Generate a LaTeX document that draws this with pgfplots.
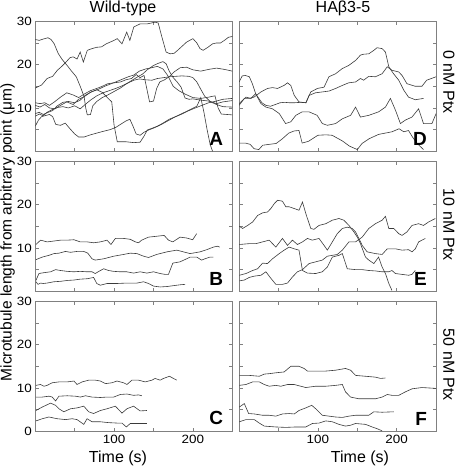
\documentclass[border=0pt]{standalone}
\usepackage{fontspec}
\setmainfont{Liberation Sans}
\usepackage{graphicx}
\usepackage{pgfplots}
\pgfplotsset{compat=1.18}
\definecolor{ln}{HTML}{3A3A3A}
\definecolor{fr}{HTML}{808080}
\newcommand{\tl}[1]{\scalebox{1.12}[1]{#1}}
\pgfplotsset{
  panel/.style={scale only axis, width=197pt, height=130pt,
    xmin=0, xmax=250, ymin=0, ymax=30, anchor=south west,
    axis line style={fr, line width=0.7pt},
    tick style={fr, line width=0.6pt}, major tick length=3.5pt, tick align=inside,
    xtick={50,100,150,200}, ytick={0,5,10,15,20,25,30},
    xticklabels={}, yticklabels={},
    tick label style={font=\fontsize{12}{12}\selectfont},
    /pgf/number format/assume math mode=true,
    no markers},
  leftp/.style={yticklabels={,,\tl{10},,\tl{20},,\tl{30}}},
  leftb/.style={yticklabels={\tl{0},,\tl{10},,\tl{20},,\tl{30}}},
  bott/.style={xticklabels={,\tl{100},,\tl{200}}},
  tr/.style={ln, line width=0.6pt},
}
\newcommand{\letter}[1]{\node[anchor=south east, inner sep=0pt, font=\fontsize{19}{19}\selectfont\bfseries] at (rel axis cs:1,0) [xshift=-9pt, yshift=6pt] {#1};}
\begin{document}
\begin{tikzpicture}
\path[use as bounding box] (0,0) rectangle (457pt,468pt);
% ---------- A ----------
\begin{axis}[panel, leftp, at={(35.3pt,316.7pt)}]
\addplot[tr] coordinates {(0,14.6)(8,15.3)(15,16.8)(22,17.3)(28,18.7)(33,19.5)(38,20.4)(44,21.6)(48,21.8)(53,21.3)(57,22.9)(61,20.6)(66,23.3)(72,23.7)(78,24)(84,24.1)(90,24.8)(95,25.2)(100,25.6)(104,26)(110,24.8)(116,27.5)(120,25.6)(125,28.7)(133,29.4)(142,29.4)(152,29.8)(156,29.6)(160,26.8)(166,22.9)(171,22.5)(176,22.6)(180,23.2)(186,24.2)(192,25.2)(200,26)(205,25)(209,23.7)(213,23.3)(219,24)(225,24.8)(230,25)(235,25)(240,25.6)(245,26.3)(250,26.5)};
\addplot[tr] coordinates {(0,25.8)(5,25.6)(10,25.9)(16,26.2)(20,25.8)(24,24.8)(29,22.6)(34,21.2)(40,19.9)(46,18.5)(52,17.2)(57,15)(62,12.6)(64,10)(66,8.4)(70,8.5)(73,10.5)(78,11.5)(85,12.4)(92,13)(100,13.8)(108,14.6)(115,15.5)(122,16.3)(130,17.2)(136,17.8)(142,18.8)(150,19.8)(156,20.3)(162,20.7)(166,20.2)(170,18.5)(175,17)(180,16)(185,14.8)(190,12.3)(195,12)(200,12.1)(210,11.8)(220,11.6)(230,10.8)(238,10.3)(250,10.2)};
\addplot[tr] coordinates {(0,11.2)(6,11)(12,11.2)(18,10.6)(25,11.5)(32,12.5)(40,13.5)(48,13)(55,12.4)(62,13.2)(70,14)(78,14.5)(85,15)(92,15.6)(100,15.8)(108,16)(115,16.5)(122,16.8)(128,17.7)(133,17)(138,17.5)(142,14)(145,11.4)(150,11.6)(154,14.5)(158,16)(164,16.5)(170,17.2)(176,18.3)(184,19.3)(192,19.4)(200,18.8)(210,18.5)(220,18.9)(230,19.2)(240,18.9)(250,18.5)};
\addplot[tr] coordinates {(0,10.6)(6,10.2)(12,10.8)(18,10)(25,9.8)(32,10.6)(40,11.4)(48,10.8)(55,12)(62,12.6)(70,13.6)(78,14.2)(85,13.6)(92,12.3)(97,11.4)(100,6)(104,2.2)(115,2.2)(125,2)(133,2.1)(138,3.5)(142,4.9)(148,5.3)(155,5.8)(162,6.5)(170,7.4)(178,8)(186,8.6)(195,9.4)(203,10)(210,10.5)(220,11.2)(230,11.6)(238,12)(250,12.2)};
\addplot[tr] coordinates {(0,8.7)(5,9)(10,8.5)(15,8.9)(22,9.4)(28,10.5)(35,11.3)(42,11.5)(50,11.2)(57,11.8)(64,13)(72,13.8)(80,14.3)(88,15)(95,15.5)(102,16)(110,16.6)(118,17.2)(125,17.6)(132,18.5)(140,19)(148,19.3)(155,19.6)(162,19)(168,17.5)(175,15)(182,14)(190,13.2)(200,12.4)(210,12.2)(220,12.5)(228,12.8)(232,10)(236,8.6)(250,8.4)};
\addplot[tr] coordinates {(0,5.8)(4,7.2)(8,8)(14,8.3)(18,8.5)(22,8)(26,6.2)(32,6)(38,6.5)(44,5.2)(50,4)(55,3.3)(62,3.3)(70,3.8)(78,4.2)(86,4.6)(95,5)(102,5.5)(108,6.2)(115,7)(120,7.4)(124,5.8)(128,4)(133,3.7)(138,4.4)(145,5)(152,5.5)(160,6.2)(168,7)(176,7.8)(185,8.6)(195,9.5)(205,10.4)(210,12.4)(214,9)(218,5)(222,1.5)(225,0)};
\addplot[tr] coordinates {(0,8.1)(5,8.6)(10,8.2)(15,9)(20,9.5)(28,10.1)(35,10.3)(42,10)(50,10.5)(57,9.8)(62,10.6)(70,11.8)(78,12.8)(86,13.5)(94,14)(102,14.5)(110,15.1)(118,15.8)(125,16.4)(132,16.7)(140,16.5)(148,16.4)(155,16.8)(163,17)(170,17.2)(178,17.3)(186,17.4)(195,17.3)(200,17)(205,16)(210,14.3)(215,12.7)(222,11.5)(230,11)(238,11.4)(250,11.7)};
\letter{A}
\end{axis}
% ---------- D ----------
\begin{axis}[panel, at={(239.1pt,316.7pt)}]
\addplot[tr] coordinates {(0,10.6)(6.6,12.2)(13,12.2)(19,12.5)(27.7,13.7)(36,14.5)(42.4,14.7)(48.8,14.5)(57,15.2)(61.4,15.8)(65.6,15.2)(70,12.9)(76,11.4)(84.6,11.2)(91,13.7)(99.3,14.5)(107.8,14.8)(114,17.2)(122.5,17.9)(131,19.1)(139,19.8)(148,21)(154,22.2)(158,22.4)(164.6,22.5)(171,23.3)(175,23.9)(181.5,23.7)(185.7,22.9)(190,19.5)(196,17.9)(202.6,16.4)(209,14.1)(215,12.5)(223.6,11.9)(234,12.2)};
\addplot[tr] coordinates {(0,16)(4,17.4)(8,17.5)(13,17.2)(17,15.5)(21,13.3)(25,12.2)(29,11.2)(34,10.6)(40,10.4)(46,10.8)(52,11.2)(58,11.3)(64,11.2)(70,11.2)(78,11.3)(85,11.2)(88.8,12.9)(97,13.5)(105.6,13.7)(114,13.9)(122.5,14.5)(131,15.2)(139,15.8)(147.8,16)(154,16.8)(158,16.4)(164.6,17.3)(173,17.2)(181.5,17.9)(188,19.5)(194,18.7)(202.6,18.3)(206.8,17.5)(213,15.6)(223.6,15)(232,15)(238,16.4)(250,17.2)};
\addplot[tr] coordinates {(0,11)(8.7,12.5)(15,12.2)(21,13.3)(27.7,11)(34,10.2)(42.4,9.8)(51,8.7)(59,6.4)(65.6,6.8)(72,8.3)(80,9.1)(88.8,9.1)(99,8.3)(105.6,6.4)(112,6)(122.5,6.4)(131,7.5)(141.5,8.3)(147.8,10.2)(154,7.9)(164.6,8.3)(177,9.1)(185.7,10.2)(192,12.2)(198.4,9.5)(204.7,6.4)(211,7.2)(219.4,7.9)(227.8,9.8)(234,6.4)(244.7,6.4)(250,8.7)};
\addplot[tr] coordinates {(0,1.9)(8,1.9)(14,1.6)(19,0.6)(25,0.4)(30,1.4)(38,1.6)(47,1.8)(55,2.9)(63,4.2)(70,4.7)(76,4.8)(80,1.9)(88,2.3)(100,3.7)(110,3.8)(118,3.7)(126,2.9)(131,2.4)(140,1.2)(150,0.4)(156,1.8)(165,2.9)(177,3.9)(194,4.5)(203,5.2)(209,4.5)(215,4.8)(220,3.3)(226,1.8)(234,0.4)};
\letter{D}
\end{axis}
% ---------- B ----------
\begin{axis}[panel, leftp, at={(35.3pt,176.7pt)}]
\addplot[tr] coordinates {(0.8,10.8)(6.7,11.8)(15,11.4)(23.6,11.6)(32,11.8)(40.5,11.8)(49,11.9)(57,11.4)(66,11.4)(74,11.2)(82.6,11.4)(91,11.8)(96,10.8)(101.6,12.2)(112,12.2)(120.5,12)(127,11.4)(131,11.2)(135,11.8)(143.7,12.5)(154,12.7)(163.5,12.9)(169,11.8)(174.5,11.4)(183.7,12.5)(192,12.3)(199.7,11.9)(204.8,13.3)};
\addplot[tr] coordinates {(0.8,7.3)(8.9,7.9)(17.3,8.3)(23.6,8.7)(30,8.8)(38.3,9.2)(44.7,9)(53,9.2)(61.5,9.2)(66.6,8.8)(72,7.5)(76,7.2)(86.8,7.5)(99.5,8.1)(112,8.5)(120.5,8.8)(129,8.7)(137.4,8.1)(143.7,7.8)(154,8.5)(167,9.1)(179.5,9.5)(188,9.1)(196.4,8.7)(209,9.1)(217.5,9.6)(226,10.2)(231,10.4)(234,10.2)};
\addplot[tr] coordinates {(0.8,2.5)(4.6,4.1)(11,4.3)(19.4,4.5)(25.7,5)(32,4.8)(40.5,4.6)(49,4.5)(57,4.6)(66,4.5)(72,4.5)(76,4.1)(82.6,4.8)(86.8,5.2)(93,4.8)(99.5,4.6)(108,4.5)(116,4.5)(124.7,4.2)(133,4.5)(141.6,4.2)(150,4.5)(158.4,4.1)(164.8,3.9)(169,3.9)(174.5,6.5)(183.7,6.8)(192,7.5)(196.4,7.9)(204.8,7.9)(211,7.2)(215.3,7.5)(221.7,7.9)(226,7.9)};
\addplot[tr] coordinates {(0.8,2.2)(3.4,1.6)(6.7,1.9)(10,1.8)(15,1.9)(23.6,2.2)(32,2.3)(40.5,2.5)(49,2.6)(57,2.8)(66,2.9)(74,3.2)(78,1.8)(82.6,1.4)(91,1.8)(103.7,1.8)(116,1.9)(129,1.9)(137.4,2.2)(143.7,1.8)(150,1.2)(158.4,1)(167,1.1)(175.3,1.3)(183.7,1.5)(190,1.6)};
\letter{B}
\end{axis}
% ---------- E ----------
\begin{axis}[panel, at={(239.1pt,176.7pt)}]
\addplot[tr] coordinates {(0.3,15)(4.5,14.5)(10.8,15.2)(17.2,16)(23.5,17.5)(29.8,18.1)(36,18.3)(40.3,19.1)(44.5,20.2)(48.8,21)(55,20.8)(59.3,19.5)(63.5,19.5)(70,19.1)(76,18.7)(80.4,20.6)(85.4,17.5)(91,14.5)(95,14.3)(101.4,15.2)(110,15.6)(118.3,16.4)(126.7,16.8)(133,16.4)(139.4,15.2)(145.7,13.7)(150,12.5)(154,11)(160.4,7.9)(164.6,7.2)(171,6.4)(177,7.9)(181.5,5.6)(185.7,4.1)(190,1.8)(194,0.2)};
\addplot[tr] coordinates {(0.3,10.8)(13,11)(21.4,11)(29.8,11.4)(38.2,11.8)(46.6,10.2)(55,12.2)(61.4,10.6)(67.7,11.8)(74,10.8)(80.4,11.4)(86.7,12.2)(93,11.8)(101.4,12.2)(107.8,10.6)(112,9.5)(118.3,11.4)(124.6,13.3)(131,14.5)(137.3,14.8)(143.6,14.5)(147.8,13.7)(152,12.2)(156.2,10.6)(162.5,9.1)(173,8.7)(181.5,8.5)(188,9.8)(198.4,9.8)(206.8,9.5)(215.2,9.6)(219.4,9.1)(223.6,9.8)(227.8,11.4)(236.3,12.2)};
\addplot[tr] coordinates {(0.3,3.7)(8.7,4.1)(17.2,4.8)(23.5,5.2)(29.8,6.5)(36,6.4)(42.4,7.5)(50.9,8.7)(57.2,9.5)(63.5,10.2)(70,9.8)(76,9.5)(80.4,4.8)(86.7,4.2)(97.2,4.1)(105.6,4.5)(112,5.6)(118.3,7.9)(126.7,8.3)(131,8.7)(137.3,5.2)(147.8,5)(156.2,5)(164.6,4.8)(173,4.7)(181.5,4.5)(190,4.5)(194,4.8)(198.4,4.1)(206.8,3.9)(215.2,3.7)(219.4,3.9)(223.6,4.8)};
\addplot[tr] coordinates {(0.3,2.4)(6.6,2.6)(12.9,3.2)(19.3,3.5)(27.7,3.7)(34,4.5)(40.3,3)(46.6,1.6)(55,1.6)(61.4,1.9)(67.7,3.3)(74,4.5)(80.4,5)(88.8,6.4)(97.2,6.8)(105.6,7.2)(112,8.1)(118.3,8.3)(124.6,8.5)(131,9.5)(139.4,11.4)(147.8,11.4)(156.2,12.5)(164.6,14.5)(173,15.6)(181.5,16.4)(185.7,17.3)(190,14.5)(196.3,14.5)(202.6,13.3)(206.8,12.9)(213,13.7)(219.4,15.2)(227.8,15.6)(234,15.2)(240.5,16)(249,16.8)};
\letter{E}
\end{axis}
% ---------- C ----------
\begin{axis}[panel, leftb, bott, at={(35.3pt,36.7pt)}]
\addplot[tr] coordinates {(0.8,10.6)(6.7,10.8)(11,10.4)(15,10.6)(21.5,11.2)(30,11.4)(40.5,11.4)(49,11.6)(53,10.8)(59.4,11.4)(67.8,11.8)(76.3,11.8)(82.6,11.6)(89,11)(97.3,11.2)(103.7,11.6)(112,11.2)(116.3,10.8)(122.6,11.8)(131,11.8)(139.5,11.4)(148,11.8)(152,12.2)(158.4,11.8)(162.7,12.2)(170.3,12.7)(175.3,12.2)(179.5,11.8)};
\addplot[tr] coordinates {(0.8,7.9)(8.9,7.9)(17.3,8.1)(21.5,7.9)(25.7,7)(30,8.1)(40.5,8.2)(51,8.1)(57.3,7.9)(63.6,8.2)(72,7.9)(82.6,7.8)(91,7.9)(99.5,7.9)(108,8.5)(116.3,8.6)(124.7,8.3)(131,8.4)(135.3,8.2)};
\addplot[tr] coordinates {(0.8,4.8)(8.9,5.6)(19.4,6.5)(25.7,6)(30,5.2)(36.2,4.5)(44.7,5.2)(53,5.4)(61.5,5.8)(67.8,4.5)(74,4.1)(82.6,4.8)(91,5.2)(101.6,5.8)(110,4.2)(116.3,5.2)(124.7,5.8)(133,4.7)(141.6,4.8)};
\addplot[tr] coordinates {(0.8,2.4)(8.9,2.9)(17.3,3.3)(27.8,2.9)(38.3,2.7)(46.8,2.9)(53,2.7)(61.5,1.6)(65.7,2.9)(72,2.2)(82.6,2.2)(93,2)(103.7,1.9)(110,1.9)(115.5,1)(120.5,1.8)(129,1.8)(141.6,1.8)};
\letter{C}
\end{axis}
% ---------- F ----------
\begin{axis}[panel, bott, at={(239.1pt,36.7pt)}]
\addplot[tr] coordinates {(0.3,12.9)(13,12.9)(25.6,12.7)(31.9,13.2)(38.2,13.3)(46.6,13.5)(57.2,13.7)(65.6,15)(76,15)(82.5,14.5)(86.7,13.9)(97.2,13.9)(110,13.9)(122.5,14.1)(135,14.5)(141.5,14.1)(147.8,12.9)(160.4,12.7)(173,12.5)(179.4,12.2)(185.7,12.3)};
\addplot[tr] coordinates {(0.3,10.6)(8.7,10.8)(17.2,11.4)(25.6,11.4)(31.9,10.8)(38.2,10.4)(46.6,10.6)(53,10.4)(61.4,10.8)(69.8,10.8)(78.3,10.4)(84.6,10.1)(97.2,10.4)(110,10.4)(122.5,10.6)(131,10.8)(135,9.1)(141.5,7.9)(152,7.5)(164.6,7.5)(173,7.5)(181.5,7.9)(188,8.5)(194,8.3)(202.6,8.3)(211,9.1)(219.4,9.8)(232,10.1)(250,9.9)};
\addplot[tr] coordinates {(0.3,5.6)(6.6,6.4)(12.1,4.1)(19.3,4)(29.8,3.7)(38.2,3.7)(46.6,3.5)(55,4)(63.5,4.1)(70,4)(76,4.8)(84.6,5.4)(92.2,6)(97.2,5.2)(105.6,3.7)(114,3.5)(122.5,3.3)(131,3.2)(139.4,3.5)(147.8,3.7)(156.2,3.7)(164.6,3.7)(171,4.5)(181.5,4.4)(196.3,4.5)};
\addplot[tr] coordinates {(0.3,2.2)(8.7,2.7)(19.3,2.7)(25.6,1.9)(31.9,1.2)(46.6,1)(59.3,0.9)(72,1)(84.6,1)(93,1.8)(101.4,1.9)(110,2.4)(118.3,2.2)(126.7,1.6)(135,1.2)(141.5,1.4)(147.8,1.8)(160.4,1.6)(168.9,1)(175.2,0.6)(181.5,0.1)};
\letter{F}
\end{axis}
% ---------- labels ----------
\node[font=\fontsize{16}{16}\selectfont] at (123pt,459.5pt) {Wild-type};
\node[font=\fontsize{16}{16}\selectfont] at (343pt,459.5pt) {HAβ3-5};
\node[font=\fontsize{16}{16}\selectfont, rotate=-90] at (449pt,386pt) {0 nM Ptx};
\node[font=\fontsize{16}{16}\selectfont, rotate=-90] at (449pt,243pt) {10 nM Ptx};
\node[font=\fontsize{16}{16}\selectfont, rotate=-90] at (449pt,103pt) {50 nM Ptx};
\node[font=\fontsize{15.5}{15.5}\selectfont, rotate=90] at (7.5pt,235.5pt) {Microtubule length from arbitrary point (μm)};
\node[font=\fontsize{16}{16}\selectfont] at (118pt,10pt) {Time (s)};
\node[font=\fontsize{16}{16}\selectfont] at (360pt,10pt) {Time (s)};
\end{tikzpicture}
\end{document}
